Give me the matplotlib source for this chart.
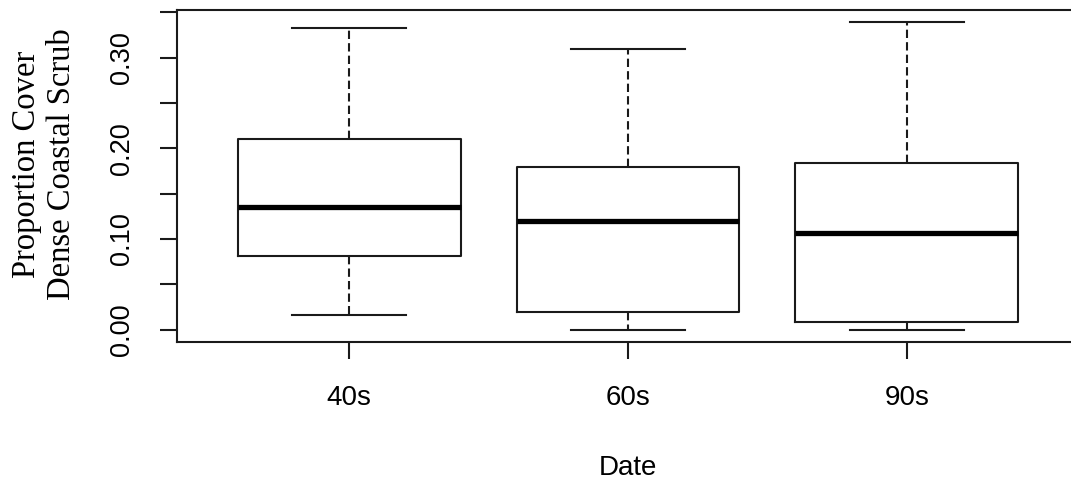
import numpy as np
import matplotlib
matplotlib.use("Agg")
import matplotlib.pyplot as plt

# boxplot summary
groups = ["40s", "60s", "90s"]
whis_lo = [0.016, 0.000, 0.000]
q1 = [0.081, 0.020, 0.009]
median = [0.135, 0.120, 0.107]
q3 = [0.210, 0.179, 0.184]
whis_hi = [0.333, 0.310, 0.339]

plt.rcParams['lines.scale_dashes'] = False

stats = []
for i, name in enumerate(groups):
    stats.append(dict(label=name, whislo=whis_lo[i], q1=q1[i], med=median[i],
                      q3=q3[i], whishi=whis_hi[i], fliers=[]))

W, H = 1071, 483
fig = plt.figure(figsize=(W / 100, H / 100), dpi=100)
# the right edge of the R plot region falls outside the image, as in the original
ax = fig.add_axes([176.5 / W, 141 / H, 903 / W, 332 / H])

line = dict(color="#1a1a1a", linewidth=1.5)
ax.bxp(stats, positions=[1, 2, 3], widths=0.8, capwidths=0.41,
       showfliers=False,
       boxprops=line,
       whiskerprops=dict(color="#1a1a1a", linewidth=1.5, linestyle=(0, (6, 3))),
       capprops=line,
       medianprops=dict(color="black", linewidth=3.8, solid_capstyle="butt"))

lo = min(whis_lo)
hi = max(whis_hi)
pad = 0.04 * (hi - lo)
ax.set_ylim(lo - pad, hi + pad)
ax.set_xlim(0.5 - 0.04 * 3, 3.5 + 0.04 * 3)

for s in ax.spines.values():
    s.set_linewidth(1.5)
    s.set_color("#1a1a1a")

yt = [0.0, 0.05, 0.10, 0.15, 0.20, 0.25, 0.30, 0.35]
ax.set_yticks(yt)
ax.set_yticklabels(["0.00", "", "0.10", "", "0.20", "", "0.30", ""],
                   rotation=90, va="center", family="Liberation Sans", fontsize=19.5)
ax.set_xticks([1, 2, 3])
ax.set_xticklabels(groups, family="Liberation Sans", fontsize=20)
ax.tick_params(axis="both", length=12, width=1.5, color="#1a1a1a")
ax.tick_params(axis="y", pad=18)
ax.tick_params(axis="x", pad=19)

fig.text(628 / W, 1 - 468 / H, "Date", ha="center", va="center",
         family="Liberation Sans", fontsize=20)
fig.text(44 / W, 1 - 164 / H, "Proportion Cover\nDense Coastal Scrub",
         rotation=90, ha="center", va="center", family="Liberation Serif",
         fontsize=23.5, linespacing=1.18)

fig.savefig("out.png", dpi=100)
